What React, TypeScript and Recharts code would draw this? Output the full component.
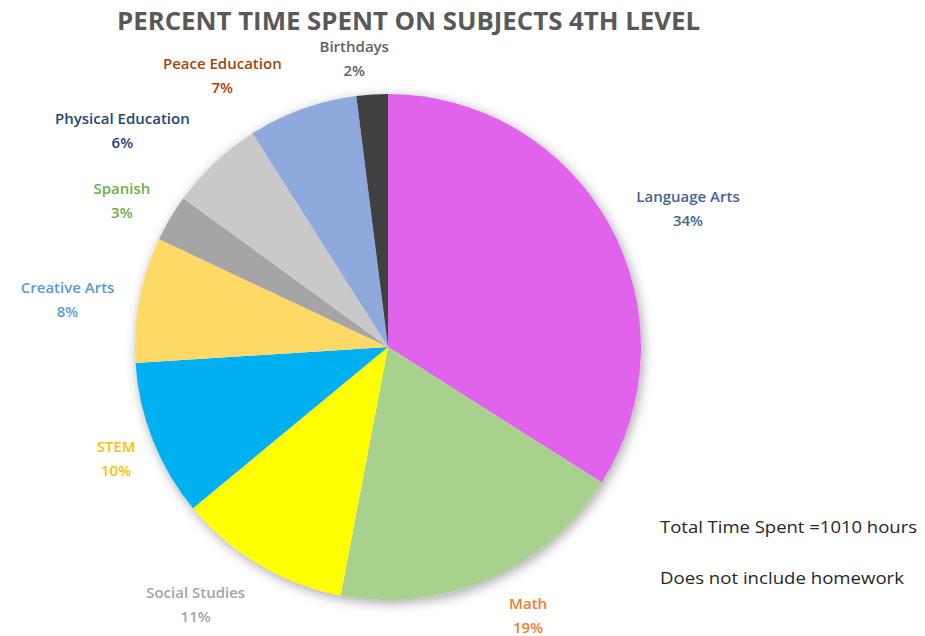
import { PieChart, Pie, Cell } from 'recharts';

// subjects, clockwise from 12 o'clock
const subjects = [
  'Language Arts',
  'Math',
  'Social Studies',
  'STEM',
  'Creative Arts',
  'Spanish',
  'Physical Education',
  'Peace Education',
  'Birthdays',
];
const percents = [34, 19, 11, 10, 8, 3, 6, 7, 2];

const sliceColors = ['#E163EB', '#A9D18E', '#FFFF00', '#00B0F0', '#FFD966', '#A5A5A5', '#C9C9C9', '#8EA9DB', '#404040'];
const labelColors = ['#4A6394', '#ED7D31', '#A5A5A5', '#FFC000', '#5B9BD5', '#70AD47', '#264478', '#9E480E', '#636363'];

// small shifts so labels sit where the original placed them (px)
const labelNudge: [number, number][] = [
  [24, 13], [15, -21], [-32, -14], [21, -5], [-11, 11], [5, 13], [-50, 13], [-59, 24], [-14, 25],
];

const data = subjects.map((name, i) => ({ name, value: percents[i] }));
// one full disc under the slices, only used to cast the soft shadow
const shadowDisc = [{ name: 'all', value: percents.reduce((a, b) => a + b, 0) }];

const RADIAN = Math.PI / 180;
const FONT = '"Open Sans", "Liberation Sans", sans-serif';

const renderLabel = (props: any) => {
  const { cx, cy, midAngle, outerRadius, index, name, value } = props;
  const r = outerRadius + 62;
  const x = cx + r * Math.cos(-midAngle * RADIAN) + labelNudge[index][0];
  const y = cy + r * Math.sin(-midAngle * RADIAN) + labelNudge[index][1];
  return (
    <text
      x={x}
      y={y}
      fill={labelColors[index]}
      textAnchor="middle"
      fontFamily={FONT}
      fontWeight={600}
      fontSize={15}
    >
      <tspan x={x} dy={-6}>{name}</tspan>
      <tspan x={x} dy={24}>{`${value}%`}</tspan>
    </text>
  );
};

export default function App() {
  return (
    <div style={{ position: 'relative', width: 925, height: 636, background: '#fff' }}>
      <style>{`body{margin:0}`}</style>
      <PieChart width={925} height={636} margin={{ top: 0, right: 0, bottom: 0, left: 0 }}>
        <Pie
          data={shadowDisc}
          dataKey="value"
          cx={388}
          cy={347}
          outerRadius={253}
          startAngle={90}
          endAngle={-270}
          stroke="none"
          isAnimationActive={false}
        >
          <Cell fill="#ffffff" style={{ filter: 'drop-shadow(2px 3px 6px rgba(0,0,0,0.35))' }} />
        </Pie>
        <Pie
          data={data}
          dataKey="value"
          nameKey="name"
          cx={388}
          cy={347}
          outerRadius={253}
          startAngle={90}
          endAngle={-270}
          stroke="none"
          labelLine={false}
          label={renderLabel}
          isAnimationActive={false}
        >
          {data.map((d, i) => (
            <Cell key={d.name} fill={sliceColors[i]} />
          ))}
        </Pie>
      </PieChart>
      <svg
        width={925}
        height={636}
        style={{ position: 'absolute', left: 0, top: 0, pointerEvents: 'none' }}
      >
        <text
          x={117}
          y={30}
          fill="#595959"
          fontFamily={FONT}
          fontWeight={700}
          fontSize={25}
          textLength={583}
          lengthAdjust="spacingAndGlyphs"
        >
          PERCENT TIME SPENT ON SUBJECTS 4TH LEVEL
        </text>
        <text x={660} y={533} fill="#262626" fontFamily={FONT} fontSize={15.5} textLength={257} lengthAdjust="spacingAndGlyphs">
          Total Time Spent =1010 hours
        </text>
        <text x={660} y={584} fill="#262626" fontFamily={FONT} fontSize={15.5} textLength={244} lengthAdjust="spacingAndGlyphs">
          Does not include homework
        </text>
      </svg>
    </div>
  );
}
